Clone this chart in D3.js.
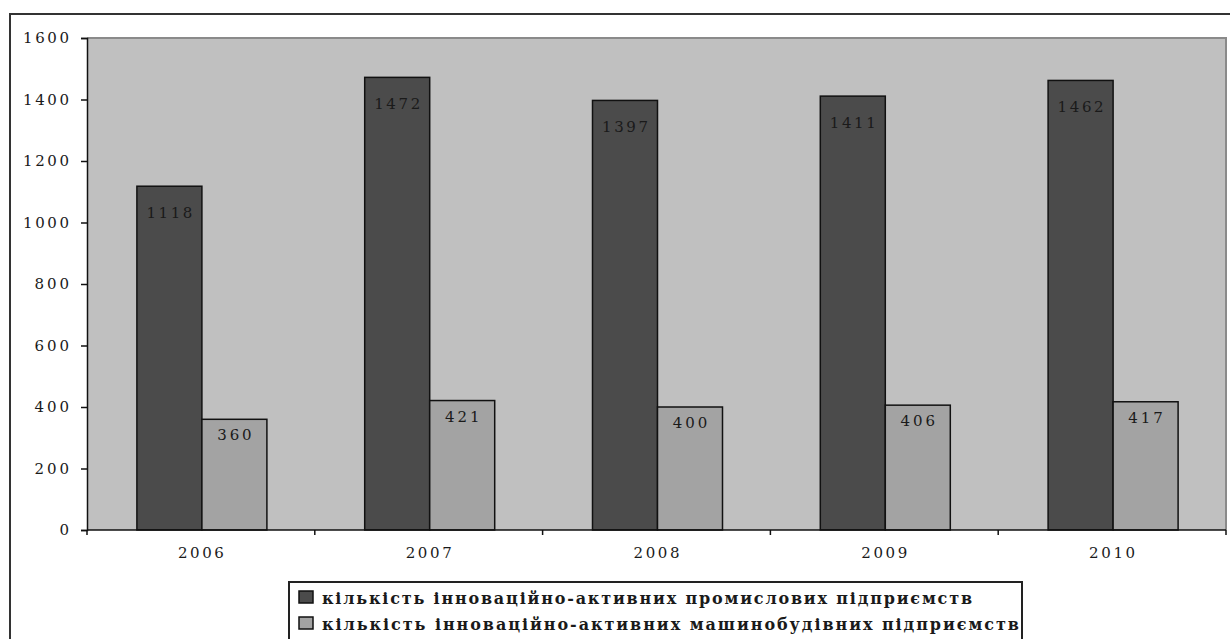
<!DOCTYPE html>
<html>
<head>
<meta charset="utf-8">
<script src="https://cdn.jsdelivr.net/npm/d3@7"></script>
<style>
  html, body { margin: 0; padding: 0; background: #fff; }
  svg { display: block; }
  text { font-family: "DejaVu Serif", "Liberation Serif", serif; }
</style>
</head>
<body>
<svg id="chart" width="1230" height="639"></svg>
<script>
// Years on the category axis
const years = ["2006", "2007", "2008", "2009", "2010"];
// Number of innovation-active industrial enterprises
const industrial = [1118, 1472, 1397, 1411, 1462];
// Number of innovation-active machine-building enterprises
const machineBuilding = [360, 421, 400, 406, 417];
// Value axis ticks
const yTicks = [0, 200, 400, 600, 800, 1000, 1200, 1400, 1600];
const seriesNames = [
  "кількість інноваційно-активних промислових підприємств",
  "кількість інноваційно-активних машинобудівних підприємств"
];
const seriesColors = ["#4b4b4b", "#a3a3a3"];

// Wide-set numerals: fit each label to a fixed width per digit
const digitW = 11.5;
const spread = sel => sel
  .attr("font-family", "DejaVu Serif, Liberation Serif, serif")
  .attr("font-size", 15)
  .attr("fill", "#1a1a1a")
  .each(function () {
    const n = this.textContent.length;
    if (n > 1) d3.select(this).attr("textLength", n * digitW).attr("lengthAdjust", "spacing");
  });

const svg = d3.select("#chart");

// Outer chart frame (extends past the right and bottom of the view)
svg.append("rect")
  .attr("x", 10).attr("y", 14).attr("width", 1240).attr("height", 660)
  .attr("fill", "#fff").attr("stroke", "#333").attr("stroke-width", 2);

const plot = { left: 87, top: 38, right: 1226, bottom: 530 };

const x = d3.scaleBand().domain(years).range([plot.left, plot.right]);
const y = d3.scaleLinear().domain([0, 1600]).range([plot.bottom, plot.top]);

// Plot background
svg.append("rect")
  .attr("x", plot.left).attr("y", plot.top)
  .attr("width", plot.right - plot.left).attr("height", plot.bottom - plot.top)
  .attr("fill", "#c0c0c0");
// Grey top and right edges of the plot area
svg.append("path")
  .attr("d", `M${plot.left},${plot.top}H${plot.right}V${plot.bottom}`)
  .attr("fill", "none").attr("stroke", "#8a8a8a").attr("stroke-width", 2);

// Bars: two per year, filling the middle of each band
const barW = 65;
const groups = years.map((yr, i) => ({ yr, vals: [industrial[i], machineBuilding[i]] }));

const g = svg.append("g");
groups.forEach(d => {
  const cx = x(d.yr) + x.bandwidth() / 2;
  d.vals.forEach((v, s) => {
    const bx = cx - barW + s * barW + 1;
    g.append("rect")
      .attr("x", bx).attr("y", y(v))
      .attr("width", barW).attr("height", y(0) - y(v))
      .attr("fill", seriesColors[s])
      .attr("stroke", "#111").attr("stroke-width", 1.5);
    g.append("text")
      .attr("x", bx + barW / 2)
      .attr("y", y(v) + (s === 0 ? 32 : 21))
      .attr("text-anchor", "middle")
      .text(v)
      .call(spread);
  });
});

// Value axis
const yAxis = svg.append("g")
  .attr("transform", `translate(${plot.left},0)`)
  .call(d3.axisLeft(y).tickValues(yTicks).tickSize(6).tickPadding(12).tickFormat(d3.format("d")));
yAxis.select(".domain").attr("stroke", "#111").attr("stroke-width", 1.5);
yAxis.selectAll(".tick line").attr("stroke", "#111").attr("stroke-width", 1.5);
yAxis.selectAll(".tick text").call(spread);

// Category axis with ticks at band boundaries
svg.append("line")
  .attr("x1", plot.left).attr("x2", plot.right)
  .attr("y1", plot.bottom).attr("y2", plot.bottom)
  .attr("stroke", "#111").attr("stroke-width", 1.5);
const bounds = years.map(d => x(d)).concat([x(years[years.length - 1]) + x.bandwidth()]);
svg.append("g").selectAll("line").data(bounds).join("line")
  .attr("x1", d => d).attr("x2", d => d)
  .attr("y1", plot.bottom).attr("y2", plot.bottom + 5)
  .attr("stroke", "#111").attr("stroke-width", 1.5);
svg.append("g").selectAll("text").data(years).join("text")
  .attr("x", d => x(d) + x.bandwidth() / 2)
  .attr("y", 558)
  .attr("text-anchor", "middle")
  .text(d => d)
  .call(spread);

// Legend
const legend = svg.append("g");
legend.append("rect")
  .attr("x", 289).attr("y", 582).attr("width", 733).attr("height", 80)
  .attr("fill", "#fff").attr("stroke", "#222").attr("stroke-width", 2);
const clip = svg.append("clipPath").attr("id", "legclip");
clip.append("rect").attr("x", 290).attr("y", 583).attr("width", 731).attr("height", 78);
const legendLengths = [650, 697];
seriesNames.forEach((name, i) => {
  const ly = 591 + i * 26;
  legend.append("rect")
    .attr("x", 299).attr("y", ly).attr("width", 14).attr("height", 12)
    .attr("fill", seriesColors[i]).attr("stroke", "#111").attr("stroke-width", 1.5);
  legend.append("text")
    .attr("clip-path", "url(#legclip)")
    .attr("x", 322).attr("y", ly + 13)
    .attr("font-size", 16).attr("font-weight", "bold")
    .attr("textLength", legendLengths[i]).attr("lengthAdjust", "spacing")
    .attr("fill", "#1a1a1a")
    .text(name);
});
</script>
</body>
</html>
